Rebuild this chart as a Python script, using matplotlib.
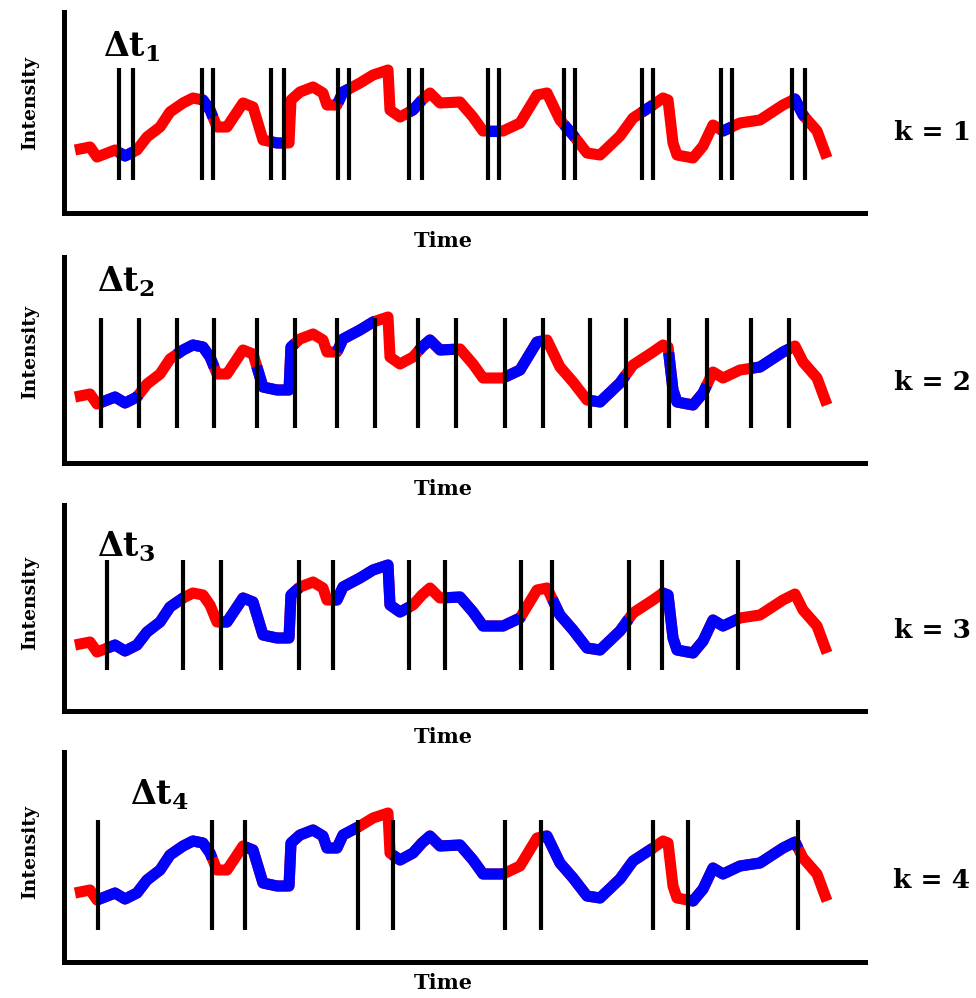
import numpy as np
import matplotlib
matplotlib.use('Agg')
import matplotlib.pyplot as plt

plt.rcParams.update({
    'font.family': 'DejaVu Serif',
    'font.weight': 'bold',
    'mathtext.fontset': 'dejavuserif',
    'mathtext.default': 'bf',
})

# intensity trace (time 0-100, intensity arbitrary 0-10), same in all panels
time = [1.37, 3.25, 4.12, 5.74, 6.37, 7.62, 9.11, 10.36, 11.99, 13.23, 14.86, 16.10,
        17.35, 18.23, 19.10, 20.35, 22.35, 23.60, 24.84, 26.59, 28.09, 28.34, 29.46,
        31.09, 32.33, 32.83, 34.08, 34.83, 36.95, 38.58, 40.45, 40.70, 41.95, 43.57,
        44.69, 45.69, 46.94, 49.44, 51.06, 52.31, 54.81, 56.93, 59.05, 60.30, 61.92,
        63.55, 65.29, 66.92, 69.41, 71.04, 73.53, 74.78, 75.41, 76.03, 76.53, 78.53,
        79.78, 81.02, 82.27, 84.39, 86.89, 89.76, 91.26, 92.26, 94.01, 95.26]
intensity = [3.15, 3.30, 2.80, 3.05, 3.15, 2.85, 3.15, 3.80, 4.30, 5.05, 5.50, 5.75,
             5.65, 5.15, 4.30, 4.30, 5.50, 5.30, 3.65, 3.50, 3.50, 5.65, 6.05,
             6.30, 6.00, 5.40, 5.40, 6.05, 6.50, 6.90, 7.15, 5.15, 4.80, 5.15,
             5.65, 6.00, 5.50, 5.55, 4.80, 4.10, 4.10, 4.50, 5.90, 6.00, 4.65,
             3.90, 3.00, 2.90, 3.85, 4.75, 5.40, 5.75, 5.65, 3.50, 2.90, 2.75,
             3.35, 4.40, 4.10, 4.50, 4.65, 5.40, 5.70, 4.90, 4.10, 2.75]

# window boundaries for each k
cuts_k1 = [6.87, 8.61, 17.23, 18.60, 25.84, 27.47, 34.21, 35.58, 43.07, 44.69,
           52.93, 54.31, 62.42, 63.80, 72.16, 73.53, 82.02, 83.40, 90.89, 92.51]
cuts_k2 = [4.58, 9.33, 14.07, 18.76, 24.06, 28.84, 34.12, 38.86, 44.23, 48.94,
           55.09, 59.84, 65.67, 70.12, 75.49, 80.24, 85.81, 90.55]
cuts_k3 = [5.41, 14.89, 19.64, 29.38, 33.62, 43.11, 47.57, 57.05, 60.96, 70.50,
           74.66, 84.14]
cuts_k4 = [4.21, 18.51, 22.63, 36.74, 41.04, 55.06, 59.51, 73.50, 77.94, 91.67]
cuts = [cuts_k1, cuts_k2, cuts_k3, cuts_k4]

k_labels = ['k = 1', 'k = 2', 'k = 3', 'k = 4']
dt_labels = ['Δt$_1$', 'Δt$_2$', 'Δt$_3$', 'Δt$_4$']

W, H = 976, 998
fig = plt.figure(figsize=(W / 100, H / 100), dpi=100)

tops = [12, 257, 505, 752]
bottoms = [213, 463, 711, 962]
shift = [0, 0.15, 0.15, 0.3]
line_span = [(1.65, 7.25), (1.6, 7.1), (1.9, 7.4), (1.3, 6.8)]
dt_pos = [(103, 57), (97, 292), (97, 557), (130, 805)]
time_y = [241, 489, 737, 983]
int_y = [103, 352, 603, 852]
k_y = [132, 382, 630, 880]

red, blue = '#ff0000', '#0000ff'

for i in range(4):
    top, bot = tops[i], bottoms[i]
    ax = fig.add_axes([64 / W, 1 - bot / H, 801 / W, (bot - top) / H])
    ax.set_xlim(0, 100)
    ax.set_ylim(-shift[i], -shift[i] + (bot - top) / 20)
    for s in ['top', 'right']:
        ax.spines[s].set_visible(False)
    for s in ['left', 'bottom']:
        ax.spines[s].set_linewidth(3.6)
        ax.spines[s].set_capstyle('projecting')
    ax.set_xticks([])
    ax.set_yticks([])

    ax.plot(time, intensity, color=red, lw=8, solid_joinstyle='round',
            solid_capstyle='butt', zorder=2)
    edges = [time[0]] + cuts[i] + [time[-1]]
    for j in range(1, len(edges) - 1, 2):
        a, b = edges[j], edges[j + 1]
        ts = [a] + [t for t in time if a < t < b] + [b]
        ax.plot(ts, np.interp(ts, time, intensity), color=blue, lw=8,
                solid_joinstyle='round', solid_capstyle='butt', zorder=2)
    ax.vlines(cuts[i], line_span[i][0], line_span[i][1], colors='k', lw=3, zorder=3)

    fig.text(dt_pos[i][0] / W, 1 - dt_pos[i][1] / H, dt_labels[i], fontsize=24,
             ha='left', va='baseline')
    fig.text(443 / W, 1 - time_y[i] / H, 'Time', fontsize=15, ha='center', va='center')
    fig.text(30 / W, 1 - int_y[i] / H, 'Intensity', fontsize=13.5, rotation=90,
             ha='center', va='center')
    fig.text(932 / W, 1 - k_y[i] / H, k_labels[i], fontsize=19, ha='center', va='center')

fig.savefig('out.png', dpi=100)
